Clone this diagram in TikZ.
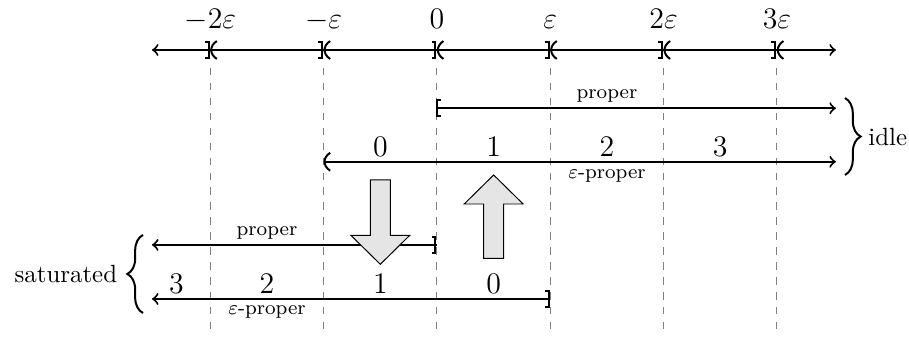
\documentclass[tikz,border=0pt]{standalone}
\usetikzlibrary{decorations.pathreplacing}
\begin{document}
\begin{tikzpicture}[x=1.6cm,y=1.6cm,
  guide/.style={gray,dashed,thin},
  lbl/.style={anchor=base,inner sep=0pt,font=\large},
  small/.style={anchor=base,inner sep=0pt,font=\footnotesize},
  block/.style={draw=black,fill=gray!20,line width=0.4pt},
  brk/.style={decorate,decoration={brace,amplitude=6.3pt},thick},
  rbr/.pic={\draw[thick] (-2.2pt,3.3pt) -- (-0.6pt,3.3pt) -- (-0.6pt,-3.3pt) -- (-2.2pt,-3.3pt);},
  lbr/.pic={\draw[thick] (1.6pt,3.3pt) -- (0pt,3.3pt) -- (0pt,-3.3pt) -- (1.6pt,-3.3pt);},
  lpar/.pic={\draw[thick] (2.6pt,3.6pt) .. controls (-0.4pt,1.6pt) and (-0.4pt,-1.6pt) .. (2.6pt,-3.6pt);},
]
\useasboundingbox (-3.856,0.441) rectangle (4.165,-2.55);

% axis
\coordinate (axL) at (-2.515,0);
\coordinate (axR) at (3.52,0);
\draw[thick,<->] (axL) -- (axR);
\foreach \k/\t in {-2/-2\varepsilon,-1/-\varepsilon,0/0,1/\varepsilon,2/2\varepsilon,3/3\varepsilon}{
  \node[lbl] (tk\k) at (\k,0.19) {$\t$};
  \coordinate (gT\k) at (\k,-0.159);
  \coordinate (gB\k) at (\k,-2.515);
  \draw[guide] (gT\k) -- (gB\k);
  \pic at (\k,0) {rbr};
  \pic at (\k,0) {lpar};
}

% idle
\coordinate (ipS) at (0,-0.514);
\coordinate (ipE) at (3.52,-0.514);
\draw[thick,->] (ipS) -- (ipE);
\pic at (ipS) {lbr};
\node[small] (ipL) at (1.5,-0.432) {proper};

\coordinate (ieS) at (-1,-0.986);
\coordinate (ieE) at (3.52,-0.986);
\draw[thick,->] (ieS) -- (ieE);
\pic at (ieS) {lpar};
\foreach \n in {0,1,2,3}{
  \node[lbl] (in\n) at (\n-0.5,-0.941) {$\n$};
}
\node[small] (ieL) at (1.5,-1.13) {$\varepsilon$-proper};

% saturated
\coordinate (spS) at (0,-1.72);
\coordinate (spE) at (-2.515,-1.72);
\draw[thick,->] (spS) -- (spE);
\pic at (spS) {rbr};
\node[small] (spL) at (-1.5,-1.641) {proper};

\coordinate (seS) at (1,-2.197);
\coordinate (seE) at (-2.515,-2.197);
\draw[thick,->] (seS) -- (seE);
\pic at (seS) {rbr};
\foreach \x/\n in {-2.3/3,-1.5/2,-0.5/1,0.5/0}{
  \node[lbl] (sn\n) at (\x,-2.153) {$\n$};
}
\node[small] (seL) at (-1.5,-2.338) {$\varepsilon$-proper};

% block arrows
\draw[block] (-0.588,-1.147) -- (-0.412,-1.147) -- (-0.412,-1.635) -- (-0.24,-1.635)
  -- (-0.5,-1.891) -- (-0.76,-1.635) -- (-0.588,-1.635) -- cycle;
\draw[block] (0.412,-1.838) -- (0.588,-1.838) -- (0.588,-1.359) -- (0.76,-1.359)
  -- (0.5,-1.103) -- (0.24,-1.359) -- (0.412,-1.359) -- cycle;

% braces
\coordinate (ibT) at (3.6,-0.424);
\coordinate (ibB) at (3.6,-1.103);
\draw[brk] (ibT) -- (ibB) node[midway,anchor=west,inner sep=0pt,xshift=9pt] (idle) {idle};

\coordinate (sbB) at (-2.594,-2.321);
\coordinate (sbT) at (-2.594,-1.632);
\draw[brk] (sbB) -- (sbT) node[midway,anchor=east,inner sep=0pt,xshift=-10pt] (sat) {saturated};
\end{tikzpicture}
\end{document}
